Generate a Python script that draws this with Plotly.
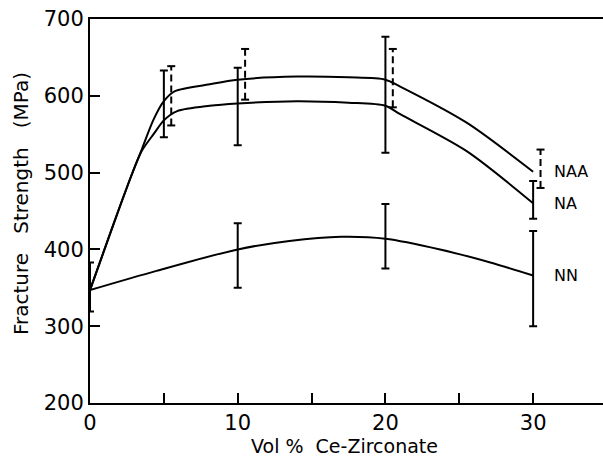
import plotly.graph_objects as go

# ---- data ----
# smooth curves (fitted lines)
naa_x = [0, 1.5, 2.7, 3.5, 4.3, 5, 5.75, 8.1, 10, 14, 17.5, 20, 21, 25.5, 30]
naa_y = [347, 428, 491, 530, 569, 593, 606, 615, 621, 625, 624, 621, 612, 565, 501]
na_x = [0, 1.5, 2.7, 3.5, 4.3, 5, 5.9, 8.1, 10, 14, 17.5, 20, 21, 25.5, 30]
na_y = [347, 428, 491, 528, 550, 568, 580, 587, 590, 593, 591, 587, 576, 528, 460]
nn_x = [0, 4.5, 10, 13.5, 17, 20, 23.7, 27.1, 30]
nn_y = [347, 372, 400, 411, 416.5, 414, 400, 383, 366]

# error bars (centre, half range)
nn_bar_x = [0, 10, 20, 30]
nn_bar_c = [351, 392, 417, 362]
nn_bar_e = [32, 42, 42, 62]
na_bar_x = [5, 10, 20, 30]
na_bar_c = [589.5, 586, 601.5, 464.5]
na_bar_e = [43.5, 50.5, 75.5, 24.5]
naa_bar_x = [5.5, 10.5, 20.5, 30.5]
naa_bar_c = [600, 628, 623, 505]
naa_bar_e = [38.6, 33, 38, 25]

series_labels = ["NAA", "NA", "NN"]
x_tickvals = [0, 5, 10, 15, 20, 25, 30]
x_ticktext = ["0", "", "10", "", "20", "", "30"]
y_tickvals = [200, 300, 400, 500, 600, 700]

FONT = "DejaVu Sans"
BLACK = "#000000"
X_MAX = 34.73

fig = go.Figure()

# curves
for xs, ys in [(naa_x, naa_y), (na_x, na_y), (nn_x, nn_y)]:
    fig.add_trace(go.Scatter(x=xs, y=ys, mode="lines",
                             line=dict(color=BLACK, width=2, shape="spline", smoothing=0.8),
                             hoverinfo="skip", showlegend=False))

# solid error bars
for bx, bc, be in [(nn_bar_x, nn_bar_c, nn_bar_e), (na_bar_x, na_bar_c, na_bar_e)]:
    fig.add_trace(go.Scatter(x=bx, y=bc, mode="markers",
                             marker=dict(size=1, color="rgba(0,0,0,0)"),
                             error_y=dict(type="data", array=be, visible=True,
                                          color=BLACK, thickness=2, width=4),
                             showlegend=False, hoverinfo="skip"))

# dashed error bars (NAA)
cap = 4 / ((603 - 90) / X_MAX)  # 4 px half width in data units
vx, vy, cx, cy = [], [], [], []
for x, c, e in zip(naa_bar_x, naa_bar_c, naa_bar_e):
    vx += [x, x, None]
    vy += [c - e, c + e, None]
    for yy in (c - e, c + e):
        cx += [x - cap, x + cap, None]
        cy += [yy, yy, None]
fig.add_trace(go.Scatter(x=vx, y=vy, mode="lines",
                         line=dict(color=BLACK, width=2, dash="7px,4px"),
                         showlegend=False, hoverinfo="skip"))
fig.add_trace(go.Scatter(x=cx, y=cy, mode="lines",
                         line=dict(color=BLACK, width=2),
                         showlegend=False, hoverinfo="skip"))

# series labels at curve ends
for lab, xs, ys in zip(series_labels, [naa_x, na_x, nn_x], [naa_y, na_y, nn_y]):
    fig.add_annotation(x=xs[-1] + 1.26, y=ys[-1], text=lab, showarrow=False,
                       xanchor="left", yanchor="middle",
                       font=dict(family=FONT, size=16, color=BLACK))

# axis titles
fig.add_annotation(xref="paper", yref="paper", x=-(90 - 21) / 513, y=(403 - 204) / 384,
                   text="Fracture\u00a0\u00a0\u00a0Strength\u00a0\u00a0\u00a0(MPa)", textangle=-90,
                   showarrow=False, xanchor="center", yanchor="middle",
                   font=dict(family=FONT, size=20, color=BLACK))
fig.add_annotation(xref="paper", yref="paper", x=(344 - 90) / 513, y=-(459 - 403) / 384,
                   text="Vol\u00a0%\u00a0\u00a0Ce-Zirconate", showarrow=False,
                   xanchor="center", yanchor="bottom",
                   font=dict(family=FONT, size=19, color=BLACK))

fig.update_layout(
    width=603, height=460,
    margin=dict(l=90, r=0, t=19, b=57),
    paper_bgcolor="white", plot_bgcolor="white",
    showlegend=False,
    font=dict(family=FONT, color=BLACK),
    xaxis=dict(range=[0, X_MAX], tickvals=x_tickvals, ticktext=x_ticktext,
               ticks="inside", ticklen=10, tickwidth=2, tickcolor=BLACK,
               showline=True, linecolor=BLACK, linewidth=2, mirror=True,
               showgrid=False, zeroline=False,
               tickfont=dict(family=FONT, size=21, color=BLACK)),
    yaxis=dict(range=[200, 700], tickvals=y_tickvals,
               ticks="inside", ticklen=10, tickwidth=2, tickcolor=BLACK,
               showline=True, linecolor=BLACK, linewidth=2,
               showgrid=False, zeroline=False,
               tickfont=dict(family=FONT, size=21, color=BLACK)),
)

fig.write_html("out.html", config={"displayModeBar": False},
               post_script="document.body.style.margin='0';document.body.style.overflow='hidden';")
